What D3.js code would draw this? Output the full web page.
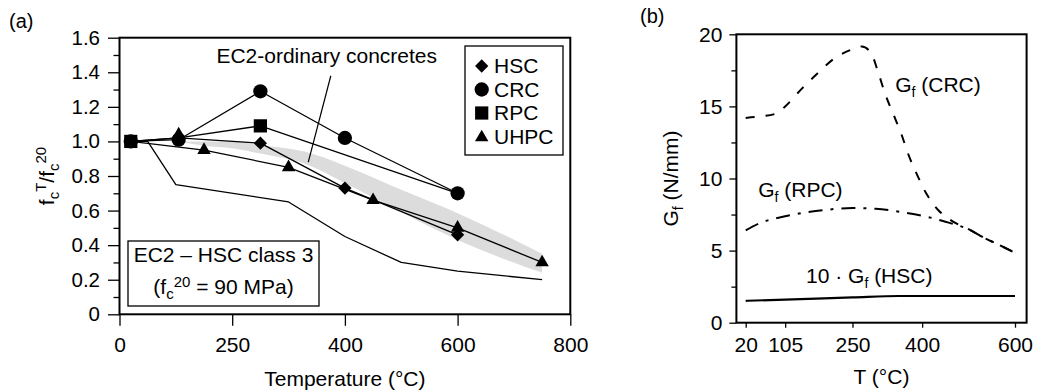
<!DOCTYPE html>
<html><head><meta charset="utf-8">
<script src="https://cdn.jsdelivr.net/npm/d3@7"></script>
<style>
body{margin:0;background:#fff}
svg{display:block}
text{font-family:"Liberation Sans",Arial,Helvetica,sans-serif;fill:#000}
</style>
</head><body><script>
// ---------------- Panel (a) data ----------------
const xTicksA = [0, 200, 400, 600, 800];
const xTickLabelsA = ["0", "250", "400", "600", "800"];
const yTicksA = [0, 0.2, 0.4, 0.6, 0.8, 1.0, 1.2, 1.4, 1.6];
const yTickLabelsA = ["0", "0.2", "0.4", "0.6", "0.8", "1.0", "1.2", "1.4", "1.6"];
const yMinorA = [0.1, 0.3, 0.5, 0.7, 0.9, 1.1, 1.3, 1.5];

const hscT = [20, 105, 250, 400, 600];
const hscV = [1.00, 1.02, 0.99, 0.73, 0.46];
const crcT = [20, 105, 250, 400, 600];
const crcV = [1.00, 1.01, 1.29, 1.02, 0.70];
const rpcT = [20, 105, 250, 600];
const rpcV = [1.00, 1.02, 1.09, 0.70];
const rpcMarked = [true, false, true, false];
const uhpcT = [20, 150, 300, 450, 600, 750];
const uhpcV = [1.00, 0.95, 0.85, 0.66, 0.50, 0.30];
const uhpcMarked = [false, true, true, true, true, true];
const uhpcExtraT = [105];
const uhpcExtraV = [1.04];

const ec2HscT = [20, 50, 100, 300, 400, 500, 600, 750];
const ec2HscV = [1.00, 1.00, 0.75, 0.65, 0.45, 0.30, 0.25, 0.20];

const bandT   = [105, 150, 200, 250, 330, 400, 500, 600, 750];
const bandUp  = [1.00, 1.00, 1.00, 0.98, 0.94, 0.86, 0.72, 0.585, 0.35];
const bandLow = [1.00, 0.975, 0.96, 0.93, 0.87, 0.76, 0.59, 0.43, 0.24];

const legendNames = ["HSC", "CRC", "RPC", "UHPC"];
const pointerT = [375, 335];
const pointerV = [1.38, 0.88];

// ---------------- Panel (b) data ----------------
const xTicksB = [20, 105, 250, 400, 600];
const yTicksB = [0, 5, 10, 15, 20];
const yMinorB = [2.5, 7.5, 12.5, 17.5];

const crcGT = [20, 50, 85, 105, 140, 175, 210, 245, 270, 290, 305, 320, 340, 355, 370, 390, 410, 435, 460, 505, 530, 575, 600];
const crcGV = [14.2, 14.3, 14.5, 15.0, 16.2, 17.3, 18.3, 18.9, 19.15, 18.7, 17.4, 15.9, 14.3, 13.1, 11.7, 10.2, 8.9, 7.8, 7.15, 6.4, 5.95, 5.25, 4.85];
const rpcGT = [20, 50, 100, 150, 200, 250, 300, 360, 410, 445, 505, 530, 575, 600];
const rpcGV = [6.4, 6.9, 7.35, 7.65, 7.85, 7.95, 7.9, 7.65, 7.35, 7.05, 6.4, 5.95, 5.25, 4.85];
const hscGT = [20, 105, 250, 350, 600];
const hscGV = [1.52, 1.6, 1.75, 1.85, 1.85];

// ---------------- Setup ----------------
const W = 1039, H = 391;
const FS = 21;
const svg = d3.select("body").append("svg").attr("width", W).attr("height", H);

function styleAxis(g, fs) {
  g.select(".domain").remove();
  g.attr("font-family", '"Liberation Sans",Arial,Helvetica,sans-serif').attr("font-size", fs);
  g.selectAll(".tick line").attr("stroke", "#000").attr("stroke-width", 1.3);
  g.selectAll(".tick text").attr("fill", "#000");
}
function rich(textSel, parts, fs) {
  let prev = 0;
  parts.forEach(p => {
    const sh = p.sh || 0;
    textSel.append("tspan").attr("dy", sh - prev).attr("font-size", p.sm ? p.sm : fs).text(p.t);
    prev = sh;
  });
}
const sym = {
  diamond: d3.symbol().type(d3.symbolSquare).size(88),
  circle: d3.symbol().type(d3.symbolCircle).size(160),
  square: d3.symbol().type(d3.symbolSquare).size(175),
  triangle: d3.symbol().type(d3.symbolTriangle).size(78)
};
function marker(g, kind, x, y) {
  const p = g.append("path").attr("d", sym[kind]()).attr("fill", "#000");
  if (kind === "diamond") p.attr("transform", `translate(${x},${y}) rotate(45)`);
  else p.attr("transform", `translate(${x},${y})`);
}

// ---------------- Panel (a) ----------------
const A = {l: 119.5, r: 570.3, t: 37.7, b: 314.3};
const xA = d3.scaleLinear().domain([0, 800]).range([A.l, A.r]);
const yA = d3.scaleLinear().domain([0, 1.6]).range([A.b, A.t]);
const ga = svg.append("g");

const bandData = bandT.map((t, i) => ({t, u: bandUp[i], l: bandLow[i]}));
ga.append("path").datum(bandData)
  .attr("d", d3.area().x(d => xA(d.t)).y0(d => yA(d.l)).y1(d => yA(d.u)).curve(d3.curveMonotoneX))
  .attr("fill", "#dcdcdc");

const lineA = d3.line().x(d => xA(d[0])).y(d => yA(d[1]));
function drawLineA(T, V) {
  ga.append("path").datum(T.map((t, i) => [t, V[i]])).attr("d", lineA)
    .attr("fill", "none").attr("stroke", "#000").attr("stroke-width", 1.3).attr("stroke-linejoin", "round");
}
drawLineA(ec2HscT, ec2HscV);
drawLineA(hscT, hscV);
drawLineA(crcT, crcV);
drawLineA(rpcT, rpcV);
drawLineA(uhpcT, uhpcV);

// pointer
ga.append("line")
  .attr("x1", xA(pointerT[0])).attr("y1", yA(pointerV[0]))
  .attr("x2", xA(pointerT[1])).attr("y2", yA(pointerV[1]))
  .attr("stroke", "#000").attr("stroke-width", 1.2);

// markers
hscT.forEach((t, i) => marker(ga, "diamond", xA(t), yA(hscV[i])));
crcT.forEach((t, i) => marker(ga, "circle", xA(t), yA(crcV[i])));
uhpcT.forEach((t, i) => { if (uhpcMarked[i]) marker(ga, "triangle", xA(t), yA(uhpcV[i])); });
uhpcExtraT.forEach((t, i) => marker(ga, "triangle", xA(t), yA(uhpcExtraV[i])));
rpcT.forEach((t, i) => { if (rpcMarked[i]) marker(ga, "square", xA(t), yA(rpcV[i])); });

// axes
ga.append("g").attr("transform", `translate(${A.l},0)`)
  .call(d3.axisLeft(yA).tickValues(yMinorA).tickSize(6).tickFormat(""))
  .call(g => styleAxis(g, FS));
ga.append("g").attr("transform", `translate(${A.l},0)`)
  .call(d3.axisLeft(yA).tickValues(yTicksA).tickSize(11.5).tickPadding(8)
    .tickFormat(d => yTickLabelsA[yTicksA.indexOf(d)]))
  .call(g => styleAxis(g, 20.5));
ga.append("g").attr("transform", `translate(0,${A.b})`)
  .call(d3.axisBottom(xA).tickValues(xTicksA).tickSize(11.5).tickPadding(11)
    .tickFormat(d => xTickLabelsA[xTicksA.indexOf(d)]))
  .call(g => styleAxis(g, FS));

ga.append("rect").attr("x", A.l).attr("y", A.t).attr("width", A.r - A.l).attr("height", A.b - A.t)
  .attr("fill", "none").attr("stroke", "#000").attr("stroke-width", 2);

// labels
svg.append("text").attr("x", 9).attr("y", 28).attr("font-size", 20).text("(a)");
ga.append("text").attr("x", xA(172)).attr("y", yA(1.455)).attr("font-size", FS).text("EC2-ordinary concretes");
ga.append("text").attr("x", (A.l + A.r) / 2).attr("y", 386).attr("text-anchor", "middle")
  .attr("font-size", FS).text("Temperature (\u00B0C)");
const ylabA = ga.append("text").attr("transform", `translate(54,${(A.t + A.b) / 2}) rotate(-90)`)
  .attr("text-anchor", "middle").attr("font-size", FS);
rich(ylabA, [{t: "f"}, {t: "c", sh: 5, sm: 15}, {t: "T", sh: -8, sm: 15}, {t: "/f"}, {t: "c", sh: 5, sm: 15}, {t: "20", sh: -8, sm: 15}], FS);

// legend
const lg = ga.append("g");
lg.append("rect").attr("x", 465).attr("y", 46).attr("width", 98).attr("height", 109)
  .attr("fill", "#fff").attr("stroke", "#000").attr("stroke-width", 1.3);
const legKinds = ["diamond", "circle", "square", "triangle"];
legendNames.forEach((n, i) => {
  const cy = 66 + i * 23.5;
  marker(lg, legKinds[i], 481.7, cy + (legKinds[i] === "triangle" ? 1 : 0));
  lg.append("text").attr("x", 494).attr("y", cy + 7.3).attr("font-size", FS).text(n);
});

// annotation box
ga.append("rect").attr("x", 128).attr("y", 241).attr("width", 191).attr("height", 65)
  .attr("fill", "#fff").attr("stroke", "#000").attr("stroke-width", 1.3);
ga.append("text").attr("x", 223.5).attr("y", 262).attr("text-anchor", "middle").attr("font-size", FS)
  .text("EC2 \u2013 HSC class 3");
const ann2 = ga.append("text").attr("x", 223.5).attr("y", 293.5).attr("text-anchor", "middle").attr("font-size", FS);
rich(ann2, [{t: "(f"}, {t: "c", sh: 5, sm: 15}, {t: "20", sh: -7, sm: 15}, {t: " = 90 MPa)"}], FS);

// ---------------- Panel (b) ----------------
const B = {l: 736.4, r: 1026.6, t: 34.3, b: 322.7};
const xB = d3.scaleLinear().domain([0, 625]).range([B.l, B.r]);
const yB = d3.scaleLinear().domain([0, 20]).range([B.b, B.t]);
const gb = svg.append("g");
const lineB = d3.line().x(d => xB(d[0])).y(d => yB(d[1])).curve(d3.curveMonotoneX);

gb.append("path").datum(hscGT.map((t, i) => [t, hscGV[i]])).attr("d", lineB)
  .attr("fill", "none").attr("stroke", "#000").attr("stroke-width", 2.2);
gb.append("path").datum(rpcGT.map((t, i) => [t, rpcGV[i]])).attr("d", lineB)
  .attr("fill", "none").attr("stroke", "#000").attr("stroke-width", 2).attr("stroke-dasharray", "14,8,3,8");
gb.append("path").datum(crcGT.map((t, i) => [t, crcGV[i]])).attr("d", lineB)
  .attr("fill", "none").attr("stroke", "#000").attr("stroke-width", 2).attr("stroke-dasharray", "9,11");

gb.append("g").attr("transform", `translate(${B.l},0)`)
  .call(d3.axisLeft(yB).tickValues(yMinorB).tickSize(5).tickFormat(""))
  .call(g => styleAxis(g, FS));
gb.append("g").attr("transform", `translate(${B.l},0)`)
  .call(d3.axisLeft(yB).tickValues(yTicksB).tickSize(7).tickPadding(7).tickFormat(d3.format("d")))
  .call(g => styleAxis(g, FS));
gb.append("g").attr("transform", `translate(0,${B.b})`)
  .call(d3.axisBottom(xB).tickValues(xTicksB).tickSize(5).tickPadding(9).tickFormat(d3.format("d")))
  .call(g => styleAxis(g, FS));
gb.append("rect").attr("x", B.l).attr("y", B.t).attr("width", B.r - B.l).attr("height", B.b - B.t)
  .attr("fill", "none").attr("stroke", "#000").attr("stroke-width", 2);

svg.append("text").attr("x", 640).attr("y", 23).attr("font-size", 20).text("(b)");
gb.append("text").attr("x", (B.l + B.r) / 2).attr("y", 383.5).attr("text-anchor", "middle")
  .attr("font-size", FS).text("T (\u00B0C)");
const ylabB = gb.append("text").attr("transform", `translate(678,${(B.t + B.b) / 2}) rotate(-90)`)
  .attr("text-anchor", "middle").attr("font-size", FS);
rich(ylabB, [{t: "G"}, {t: "f", sh: 5, sm: 14}, {t: " (N/mm)", sh: 0}], FS);

const lab1 = gb.append("text").attr("x", xB(342)).attr("y", yB(16.0)).attr("font-size", FS);
rich(lab1, [{t: "G"}, {t: "f", sh: 5, sm: 14}, {t: " (CRC)", sh: 0}], FS);
const lab2 = gb.append("text").attr("x", xB(47)).attr("y", yB(8.7)).attr("font-size", FS);
rich(lab2, [{t: "G"}, {t: "f", sh: 5, sm: 14}, {t: " (RPC)", sh: 0}], FS);
const lab3 = gb.append("text").attr("x", xB(150)).attr("y", yB(2.72)).attr("font-size", FS);
rich(lab3, [{t: "10 \u00B7 G"}, {t: "f", sh: 5, sm: 14}, {t: " (HSC)", sh: 0}], FS);
</script></body></html>
